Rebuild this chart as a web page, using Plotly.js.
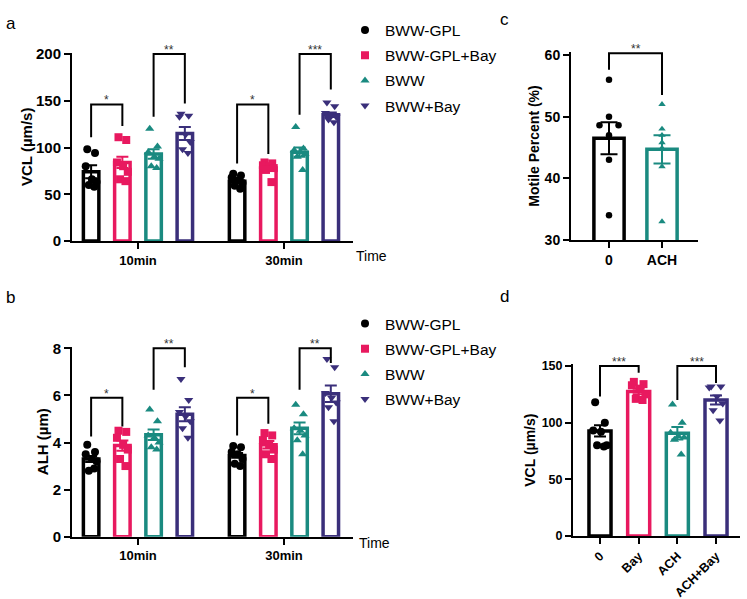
<!DOCTYPE html>
<html>
<head>
<meta charset="utf-8">
<script src="https://cdn.plot.ly/plotly-3.0.1.min.js"></script>
<style>html,body{margin:0;padding:0;background:#fff;}#chart{width:747px;height:599px;}</style>
</head>
<body>
<div id="chart"></div>
<script>
// ---------- data ----------
const groups = ['10min', '30min'];
const seriesNames = ['BWW-GPL', 'BWW-GPL+Bay', 'BWW', 'BWW+Bay'];

// Panel a: VCL (µm/s) — index [series][group]
const vclMean = [[74, 64], [84, 78], [93, 95], [115, 135]];
const vclSem = [[7, 2.5], [6, 3], [5, 5], [7, 2.5]];
const vclPts = [
  [[98, 94, 80, 66, 63, 60, 58], [72, 70, 68, 65, 62, 59, 56]],
  [[111, 108, 84, 80, 74, 66, 64], [84, 83, 81, 80, 78, 76, 63]],
  [[120, 101, 95, 90, 88, 80, 78], [122, 99, 97, 95, 93, 90, 76]],
  [[136, 134, 133, 114, 106, 98, 94], [148, 144, 137, 135, 133, 130, 127]]
];
const vclSigLabel = ['*', '**', '*', '***'];
const vclSigTop = [146, 200, 146, 200];
const vclSigLeft = [111, 133, 83, 135];
const vclSigRight = [123, 147, 93, 162];

// Panel b: ALH (µm)
const alhMean = [[3.3, 3.45], [3.87, 3.9], [4.33, 4.6], [5.2, 6.07]];
const alhSem = [[0.13, 0.1], [0.22, 0.16], [0.22, 0.25], [0.3, 0.35]];
const alhPts = [
  [[3.9, 3.6, 3.5, 3.3, 3.2, 2.8, 2.9], [3.85, 3.8, 3.6, 3.5, 3.3, 3.1, 3.0]],
  [[4.5, 4.45, 4.2, 3.9, 3.7, 3.3, 3.0], [4.4, 4.3, 4.1, 3.9, 3.7, 3.5, 3.3]],
  [[5.4, 4.9, 4.3, 4.2, 4.0, 3.8, 3.7], [5.6, 5.2, 4.6, 4.5, 4.3, 4.1, 3.5]],
  [[6.7, 5.8, 5.3, 5.1, 4.9, 4.6, 4.2], [7.55, 7.2, 6.1, 5.9, 5.7, 5.5, 4.9]]
];
const alhSigLabel = ['*', '**', '*', '**'];
const alhSigTop = [5.9, 8.0, 5.9, 8.0];
const alhSigLeft = [4.26, 6.24, 4.3, 6.24];
const alhSigRight = [4.68, 7.2, 4.8, 7.38];

// Panel c: Motile Percent (%)
const motCats = ['0', 'ACH'];
const motMean = [46.5, 44.7];
const motSem = [2.6, 2.3];
const motPts = [[56, 50, 48.6, 48.6, 47, 43, 34], [52, 48, 47, 45.8, 44.9, 41.9, 33]];
const motSigLabel = ['**'];
const motSigTop = [60.3];
const motSigLeft = [57.6];
const motSigRight = [53.5];

// Panel d: VCL (µm/s)
const dCats = ['0', 'Bay', 'ACH', 'ACH+Bay'];
const dMean = [92.7, 127.5, 90.6, 120];
const dSem = [5, 2.5, 5.5, 4];
const dPts = [
  [118, 100, 93, 92, 80, 80, 79],
  [136, 134, 133, 130, 125, 121, 120],
  [116, 100, 91, 88, 87, 85, 72],
  [132, 132, 131, 123, 117, 111, 102]
];
const dSigLabel = ['***', '***'];
const dSigTop = [150, 150];
const dSigLeft = [123, 120];
const dSigRight = [144, 135];

// ---------- style ----------
const colors = ['#000000', '#E8195F', '#1A8A80', '#3A2F7A'];
const symbols = ['circle', 'square', 'triangle-up', 'triangle-down'];
const FONT = 'Liberation Sans, Arial, sans-serif';
const W = 747, H = 599;
const slot = 0.214, bwAB = 0.106;
const jit = [-0.25, 0.25, -0.35, 0.05, 0.35, -0.15, 0.2];
const jitC = [[0, 0, -0.18, 0.18, 0, 0, 0], [0, 0, 0, 0, 0, 0, 0]];

const traces = [];
const annotations = [];

function bracket(xa, ya, x0, x1, top, left, right, label) {
  traces.push({
    type: 'scatter', mode: 'lines', xaxis: xa, yaxis: ya, showlegend: false, hoverinfo: 'skip',
    x: [x0, x0, x1, x1], y: [left, top, top, right],
    line: {color: '#000', width: 2}
  });
  annotations.push({
    xref: xa, yref: ya, x: (x0 + x1) / 2, y: top, text: label, showarrow: false,
    yanchor: 'bottom', yshift: -5, font: {family: FONT, size: 12, color: '#333'}
  });
}

function groupedPanel(xa, ya, mean, sem, pts, sigLabel, sigTop, sigLeft, sigRight, legendName, msize) {
  for (let k = 0; k < 4; k++) {
    const off = (k - 1.5) * slot;
    traces.push({
      type: 'bar', xaxis: xa, yaxis: ya, showlegend: false, hoverinfo: 'skip',
      x: groups.map((g, i) => i + off), y: mean[k], width: bwAB,
      marker: {color: '#ffffff', line: {color: colors[k], width: 3.5}},
      error_y: {type: 'data', array: sem[k], visible: true, color: colors[k], thickness: 2, width: 6}
    });
  }
  for (let k = 0; k < 4; k++) {
    const off = (k - 1.5) * slot;
    const xs = [], ys = [];
    pts[k].forEach((arr, i) => arr.forEach((v, j) => { xs.push(i + off + jit[j] * bwAB); ys.push(v); }));
    traces.push({
      type: 'scatter', mode: 'markers', xaxis: xa, yaxis: ya, name: seriesNames[k],
      legend: legendName, legendgroup: legendName + k, showlegend: true, cliponaxis: false,
      x: xs, y: ys, marker: {symbol: symbols[k], size: msize, color: colors[k], line: {width: 0}}
    });
  }
  const pairs = [[0, 0, 1], [0, 2, 3], [1, 0, 1], [1, 2, 3]];
  pairs.forEach((p, n) => {
    bracket(xa, ya, p[0] + (p[1] - 1.5) * slot, p[0] + (p[2] - 1.5) * slot,
      sigTop[n], sigLeft[n], sigRight[n], sigLabel[n]);
  });
}

groupedPanel('x', 'y', vclMean, vclSem, vclPts, vclSigLabel, vclSigTop, vclSigLeft, vclSigRight, 'legend', 8);
groupedPanel('x2', 'y2', alhMean, alhSem, alhPts, alhSigLabel, alhSigTop, alhSigLeft, alhSigRight, 'legend2', 8);

// Panel c
const cColors = [colors[0], colors[2]];
const cSymbols = [symbols[0], symbols[2]];
motCats.forEach((c, i) => {
  traces.push({
    type: 'bar', xaxis: 'x3', yaxis: 'y3', showlegend: false, hoverinfo: 'skip',
    x: [i], y: [motMean[i]], width: 0.57,
    marker: {color: '#fff', line: {color: cColors[i], width: 3.5}},
    error_y: {type: 'data', array: [motSem[i]], visible: true, color: cColors[i], thickness: 2, width: 8.5}
  });
});
motCats.forEach((c, i) => {
  traces.push({
    type: 'scatter', mode: 'markers', xaxis: 'x3', yaxis: 'y3', showlegend: false, cliponaxis: false,
    x: motPts[i].map((v, j) => i + jitC[i][j]), y: motPts[i],
    marker: {symbol: cSymbols[i], size: 6.5, color: cColors[i]}
  });
});
bracket('x3', 'y3', 0, 1, motSigTop[0], motSigLeft[0], motSigRight[0], motSigLabel[0]);

// Panel d
dCats.forEach((c, i) => {
  traces.push({
    type: 'bar', xaxis: 'x4', yaxis: 'y4', showlegend: false, hoverinfo: 'skip',
    x: [i], y: [dMean[i]], width: 0.57,
    marker: {color: '#fff', line: {color: colors[i], width: 3.5}},
    error_y: {type: 'data', array: [dSem[i]], visible: true, color: colors[i], thickness: 2, width: 6}
  });
});
dCats.forEach((c, i) => {
  traces.push({
    type: 'scatter', mode: 'markers', xaxis: 'x4', yaxis: 'y4', showlegend: false, cliponaxis: false,
    x: dPts[i].map((v, j) => i + jit[j] * 0.5), y: dPts[i],
    marker: {symbol: symbols[i], size: 8, color: colors[i]}
  });
});
bracket('x4', 'y4', 0, 1, dSigTop[0], dSigLeft[0], dSigRight[0], dSigLabel[0]);
bracket('x4', 'y4', 2, 3, dSigTop[1], dSigLeft[1], dSigRight[1], dSigLabel[1]);

// ---------- layout ----------
const px = v => v / W;
const py = v => 1 - v / H;
const bold = (s) => ({family: FONT, size: s, color: '#000', weight: 'bold'});
const baseX = {showline: true, linewidth: 2, linecolor: '#000', ticks: 'outside', ticklen: 6, tickwidth: 2,
  tickcolor: '#000', showgrid: false, zeroline: false, fixedrange: true};
const baseY = Object.assign({}, baseX);

const layout = {
  width: W, height: H, margin: {l: 0, r: 0, t: 0, b: 0},
  paper_bgcolor: '#fff', plot_bgcolor: 'rgba(0,0,0,0)',
  barmode: 'overlay', showlegend: true,
  font: {family: FONT, color: '#000'},
  xaxis: Object.assign({}, baseX, {domain: [px(72), px(353)], range: [-0.452, 1.473], anchor: 'y',
    tickvals: [0, 1], ticktext: groups, tickfont: bold(13)}),
  yaxis: Object.assign({}, baseY, {domain: [py(241), py(52.6)], range: [0, 201.5], anchor: 'x',
    tickvals: [0, 50, 100, 150, 200], tickfont: bold(15), title: {text: 'VCL (µm/s)', font: bold(15), standoff: 0}}),
  xaxis2: Object.assign({}, baseX, {domain: [px(72), px(353)], range: [-0.452, 1.473], anchor: 'y2',
    tickvals: [0, 1], ticktext: groups, tickfont: bold(13)}),
  yaxis2: Object.assign({}, baseY, {domain: [py(536.7), py(346.65)], range: [0, 8.07], anchor: 'x2',
    tickvals: [0, 2, 4, 6, 8], tickfont: bold(15), title: {text: 'ALH (µm)', font: bold(15), standoff: 0}}),
  xaxis3: Object.assign({}, baseX, {domain: [px(571), px(698)], range: [-0.717, 1.679], anchor: 'y3',
    tickvals: [0, 1], ticktext: motCats, tickfont: bold(14)}),
  yaxis3: Object.assign({}, baseY, {domain: [py(240), py(51.9)], range: [30, 60.5], anchor: 'x3',
    tickvals: [30, 40, 50, 60], tickfont: bold(14), title: {text: 'Motile Percent (%)', font: bold(14), standoff: 2}}),
  xaxis4: Object.assign({}, baseX, {domain: [px(573), px(740)], range: [-0.698, 3.62], anchor: 'y4',
    tickvals: [0, 1, 2, 3], ticktext: dCats, tickangle: -45, tickfont: bold(12.5)}),
  yaxis4: Object.assign({}, baseY, {domain: [py(536), py(364.3)], range: [0, 151.5], anchor: 'x4',
    tickvals: [0, 50, 100, 150], tickfont: bold(12.5), title: {text: 'VCL (µm/s)', font: bold(14), standoff: 3}}),
  legend: {x: px(345), y: py(13.5), xanchor: 'left', yanchor: 'top', bgcolor: 'rgba(0,0,0,0)',
    font: {family: FONT, size: 15.5, color: '#000'}, tracegroupgap: 2, traceorder: 'grouped'},
  legend2: {x: px(345), y: py(307), xanchor: 'left', yanchor: 'top', bgcolor: 'rgba(0,0,0,0)',
    font: {family: FONT, size: 15.5, color: '#000'}, tracegroupgap: 2, traceorder: 'grouped'},
  annotations: annotations.concat([
    {xref: 'paper', yref: 'paper', x: px(4), y: py(12), text: 'a', showarrow: false, font: {family: FONT, size: 17}},
    {xref: 'paper', yref: 'paper', x: px(4), y: py(297), text: 'b', showarrow: false, font: {family: FONT, size: 17}},
    {xref: 'paper', yref: 'paper', x: px(511), y: py(8), text: 'c', showarrow: false, font: {family: FONT, size: 17}},
    {xref: 'paper', yref: 'paper', x: px(511), y: py(296), text: 'd', showarrow: false, font: {family: FONT, size: 17}},
    {xref: 'paper', yref: 'paper', x: px(354), y: py(256), xanchor: 'left', text: 'Time', showarrow: false, font: {family: FONT, size: 14}},
    {xref: 'paper', yref: 'paper', x: px(357), y: py(553), xanchor: 'left', text: 'Time', showarrow: false, font: {family: FONT, size: 14}}
  ])
};

Plotly.newPlot('chart', traces, layout, {staticPlot: true, displayModeBar: false});
</script>
</body>
</html>
